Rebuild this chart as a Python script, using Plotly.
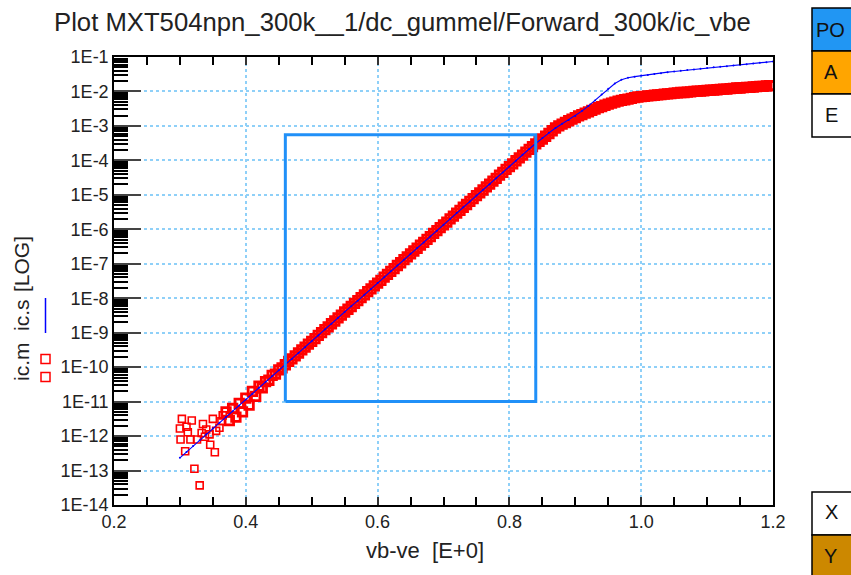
import plotly.graph_objects as go

# ---------------- data ----------------
title_text = "Plot MXT504npn_300k__1/dc_gummel/Forward_300k/ic_vbe"

# simulated ic.s : vb-ve [V] and log10(ic) [A]
vbe_sim = [0.30, 0.31, 0.32, 0.33, 0.34, 0.35, 0.36, 0.37, 0.38, 0.39,
           0.40, 0.41, 0.42, 0.43, 0.44, 0.45, 0.46, 0.47, 0.48, 0.49,
           0.50, 0.51, 0.52, 0.53, 0.54, 0.55, 0.56, 0.57, 0.58, 0.59,
           0.60, 0.61, 0.62, 0.63, 0.64, 0.65, 0.66, 0.67, 0.68, 0.69,
           0.70, 0.71, 0.72, 0.73, 0.74, 0.75, 0.76, 0.77, 0.78, 0.79,
           0.80, 0.81, 0.82, 0.83, 0.84, 0.85, 0.86, 0.87, 0.88, 0.89,
           0.90, 0.91, 0.92, 0.93, 0.94, 0.95, 0.96, 0.97, 0.98, 0.99,
           1.00, 1.01, 1.02, 1.03, 1.04, 1.05, 1.06, 1.07, 1.08, 1.09,
           1.10, 1.11, 1.12, 1.13, 1.14, 1.15, 1.16, 1.17, 1.18, 1.19,
           1.20]
log_ic_sim = [-12.63, -12.46, -12.29, -12.12, -11.95, -11.78, -11.61, -11.45, -11.28, -11.11,
              -10.94, -10.77, -10.60, -10.43, -10.26, -10.09, -9.92, -9.76, -9.59, -9.42,
              -9.25, -9.08, -8.91, -8.74, -8.57, -8.40, -8.23, -8.07, -7.90, -7.73,
              -7.56, -7.39, -7.22, -7.05, -6.88, -6.71, -6.54, -6.38, -6.21, -6.04,
              -5.87, -5.70, -5.53, -5.36, -5.19, -5.02, -4.85, -4.69, -4.52, -4.35,
              -4.18, -4.01, -3.84, -3.67, -3.51, -3.35, -3.20, -3.06, -2.94, -2.83,
              -2.71, -2.57, -2.42, -2.26, -2.09, -1.92, -1.77, -1.66, -1.60, -1.57,
              -1.54, -1.52, -1.49, -1.47, -1.44, -1.42, -1.40, -1.38, -1.36, -1.34,
              -1.32, -1.30, -1.28, -1.27, -1.25, -1.23, -1.21, -1.19, -1.17, -1.15,
              -1.13]

# measured ic.m, noisy low-current points
vbe_meas_low = [0.300, 0.301, 0.303, 0.308, 0.310, 0.312, 0.316, 0.318, 0.322, 0.326,
                0.330, 0.333, 0.335, 0.338, 0.340, 0.345, 0.346, 0.350, 0.353, 0.355,
                0.360, 0.363, 0.365]
log_ic_meas_low = [-11.78, -12.10, -11.50, -12.44, -11.73, -11.89, -12.10, -11.55, -12.95, -12.10,
                   -13.43, -11.91, -11.65, -12.02, -11.81, -11.95, -12.25, -11.50, -12.47, -11.85,
                   -11.76, -11.57, -11.40]

# measured ic.m, main sweep
vbe_meas = [0.370, 0.375, 0.380, 0.385, 0.390, 0.395, 0.400, 0.405, 0.410, 0.415,
            0.420, 0.425, 0.430, 0.435, 0.440, 0.445, 0.450, 0.455, 0.460, 0.465,
            0.470, 0.475, 0.480, 0.485, 0.490, 0.495, 0.500, 0.505, 0.510, 0.515,
            0.520, 0.525, 0.530, 0.535, 0.540, 0.545, 0.550, 0.555, 0.560, 0.565,
            0.570, 0.575, 0.580, 0.585, 0.590, 0.595, 0.600, 0.605, 0.610, 0.615,
            0.620, 0.625, 0.630, 0.635, 0.640, 0.645, 0.650, 0.655, 0.660, 0.665,
            0.670, 0.675, 0.680, 0.685, 0.690, 0.695, 0.700, 0.705, 0.710, 0.715,
            0.720, 0.725, 0.730, 0.735, 0.740, 0.745, 0.750, 0.755, 0.760, 0.765,
            0.770, 0.775, 0.780, 0.785, 0.790, 0.795, 0.800, 0.805, 0.810, 0.815,
            0.820, 0.825, 0.830, 0.835, 0.840, 0.845, 0.850, 0.855, 0.860, 0.865,
            0.870, 0.875, 0.880, 0.885, 0.890, 0.895, 0.900, 0.905, 0.910, 0.915,
            0.920, 0.925, 0.930, 0.935, 0.940, 0.945, 0.950, 0.955, 0.960, 0.965,
            0.970, 0.975, 0.980, 0.985, 0.990, 0.995, 1.000, 1.005, 1.010, 1.015,
            1.020, 1.025, 1.030, 1.035, 1.040, 1.045, 1.050, 1.055, 1.060, 1.065,
            1.070, 1.075, 1.080, 1.085, 1.090, 1.095, 1.100, 1.105, 1.110, 1.115,
            1.120, 1.125, 1.130, 1.135, 1.140, 1.145, 1.150, 1.155, 1.160, 1.165,
            1.170, 1.175, 1.180, 1.185, 1.190, 1.195, 1.200]
log_ic_meas = [-11.30, -11.55, -11.20, -11.45, -11.05, -11.30, -10.90, -11.10, -10.70, -10.85,
               -10.55, -10.60, -10.42, -10.38, -10.24, -10.20, -10.08, -10.02, -9.93, -9.83,
               -9.76, -9.67, -9.59, -9.50, -9.42, -9.33, -9.25, -9.17, -9.08, -9.00,
               -8.91, -8.83, -8.74, -8.66, -8.57, -8.49, -8.40, -8.32, -8.24, -8.15,
               -8.07, -7.98, -7.90, -7.81, -7.73, -7.64, -7.56, -7.48, -7.39, -7.31,
               -7.22, -7.14, -7.05, -6.97, -6.88, -6.80, -6.71, -6.63, -6.55, -6.46,
               -6.38, -6.29, -6.21, -6.12, -6.04, -5.95, -5.87, -5.79, -5.70, -5.62,
               -5.53, -5.45, -5.36, -5.28, -5.19, -5.11, -5.02, -4.94, -4.86, -4.77,
               -4.69, -4.60, -4.52, -4.43, -4.35, -4.26, -4.18, -4.10, -4.01, -3.93,
               -3.85, -3.76, -3.68, -3.60, -3.52, -3.45, -3.38, -3.30, -3.22, -3.14,
               -3.06, -3.00, -2.95, -2.90, -2.85, -2.80, -2.76, -2.71, -2.67, -2.63,
               -2.59, -2.55, -2.51, -2.47, -2.44, -2.40, -2.37, -2.34, -2.31, -2.28,
               -2.26, -2.24, -2.22, -2.20, -2.18, -2.16, -2.15, -2.14, -2.13, -2.12,
               -2.11, -2.10, -2.09, -2.08, -2.07, -2.06, -2.05, -2.04, -2.03, -2.03,
               -2.02, -2.01, -2.00, -1.99, -1.99, -1.98, -1.97, -1.96, -1.96, -1.95,
               -1.94, -1.93, -1.93, -1.92, -1.91, -1.90, -1.90, -1.89, -1.88, -1.88,
               -1.87, -1.86, -1.85, -1.85, -1.84, -1.83, -1.83]

# fit-window box corners (vb-ve, ic)
box_x = [0.46, 0.84, 0.84, 0.46, 0.46]
box_y = [1e-11, 1e-11, 5.5e-4, 5.5e-4, 1e-11]

x_tickvals = [0.2, 0.4, 0.6, 0.8, 1.0, 1.2]
x_ticktext = ["0.2", "0.4", "0.6", "0.8", "1.0", "1.2"]
y_exponents = [-1, -2, -3, -4, -5, -6, -7, -8, -9, -10, -11, -12, -13, -14]
y_ticktext = ["1E-1", "1E-2", "1E-3", "1E-4", "1E-5", "1E-6", "1E-7",
              "1E-8", "1E-9", "1E-10", "1E-11", "1E-12", "1E-13", "1E-14"]

# ---------------- figure ----------------
FONT = "Liberation Sans, Arial, Helvetica, sans-serif"
W, H = 851, 575
ML, MR, MT, MB = 114, 78, 57, 70
PW, PH = W - ML - MR, H - MT - MB


def px(x):
    return (x - ML) / PW


def py(y):
    return (H - MB - y) / PH


fig = go.Figure()
# noisy low-current points (individual open squares)
fig.add_trace(go.Scatter(
    x=vbe_meas_low, y=[10 ** v for v in log_ic_meas_low], mode="markers", name="ic.m",
    marker=dict(symbol="square-open", size=7, color="#ff0000",
                line=dict(color="#ff0000", width=1.6)),
    showlegend=False))
# main measured sweep (dense open squares merging into a band)
fig.add_trace(go.Scatter(
    x=vbe_meas, y=[10 ** v for v in log_ic_meas], mode="markers", name="ic.m",
    marker=dict(symbol="square-open", size=8.5, color="#ff0000",
                line=dict(color="#ff0000", width=2.8)),
    showlegend=False))
fig.add_trace(go.Scatter(
    x=vbe_sim, y=[10 ** v for v in log_ic_sim], mode="lines+markers", name="ic.s",
    line=dict(color="#0000ff", width=1.1),
    marker=dict(size=2, color="#0000ff"),
    showlegend=False))
fig.add_trace(go.Scatter(
    x=box_x, y=box_y, mode="lines", line=dict(color="#2090f8", width=3),
    showlegend=False, hoverinfo="skip"))

grid_col = "#8fd0f8"
fig.update_xaxes(
    range=[0.2, 1.2], tickmode="array", tickvals=x_tickvals, ticktext=x_ticktext,
    ticks="inside", ticklen=8, tickwidth=1.5, tickcolor="#333",
    showline=True, linecolor="black", linewidth=1.5, mirror="ticks",
    showgrid=True, gridcolor=grid_col, gridwidth=1.5, griddash="dot",
    zeroline=False,
    minor=dict(ticks="inside", ticklen=8, tickwidth=1.5, tickcolor="black",
               dtick=0.05, tick0=0.2, showgrid=False),
    tickfont=dict(family=FONT, size=18, color="#222"),
)
fig.update_yaxes(
    type="log", range=[-14, -1], tickmode="array",
    tickvals=[10 ** e for e in y_exponents], ticktext=y_ticktext,
    ticks="inside", ticklen=27, tickwidth=1.5, tickcolor="#444",
    showline=True, linecolor="black", linewidth=1.5, mirror=True,
    showgrid=True, gridcolor=grid_col, gridwidth=1.5, griddash="dot",
    zeroline=False,
    minor=dict(ticks="inside", ticklen=14, tickwidth=1.5, tickcolor="black",
               dtick="D1", showgrid=False),
    tickfont=dict(family=FONT, size=18, color="#222"),
)

ann = []
# title
ann.append(dict(x=px(402), y=py(22), xref="paper", yref="paper", text=title_text,
                showarrow=False, font=dict(family=FONT, size=25.7, color="#222"),
                xanchor="center", yanchor="middle"))
# x label
ann.append(dict(x=px(425), y=py(550), xref="paper", yref="paper", text="vb-ve  [E+0]",
                showarrow=False, font=dict(family=FONT, size=22, color="#222"),
                xanchor="center", yanchor="middle"))
# y label pieces
for txt, yc in [("ic.m", 362), ("ic.s", 315), ("[LOG]", 264)]:
    ann.append(dict(x=px(21), y=py(yc), xref="paper", yref="paper", text=txt,
                    textangle=-90, showarrow=False,
                    font=dict(family=FONT, size=21, color="#222"),
                    xanchor="center", yanchor="middle"))
# right-hand buttons text
for txt, xc, yc, anchor in [("PO", 814, 30, "left"), ("A", 831, 72, "center"),
                            ("E", 832, 115, "center"), ("X", 832, 512, "center"),
                            ("Y", 831, 556, "center")]:
    ann.append(dict(x=px(xc), y=py(yc), xref="paper", yref="paper", text=txt,
                    showarrow=False, font=dict(family=FONT, size=20, color="#111"),
                    xanchor=anchor, yanchor="middle"))

shapes = []
# legend symbols near y label
shapes.append(dict(type="line", xref="paper", yref="paper",
                   x0=px(45.5), x1=px(45.5), y0=py(298), y1=py(333),
                   line=dict(color="#0000ff", width=1.5)))
for yc in (359, 377):
    shapes.append(dict(type="rect", xref="paper", yref="paper",
                       x0=px(41), x1=px(50), y0=py(yc - 4.5), y1=py(yc + 4.5),
                       line=dict(color="#ff0000", width=1.5)))
# right-hand buttons
for y0, y1, col in [(8, 51, "#2196f3"), (51, 94, "#ffa500"), (94, 137, "#ffffff"),
                    (492, 535, "#ffffff"), (535, 580, "#cc8800")]:
    shapes.append(dict(type="rect", xref="paper", yref="paper",
                       x0=px(812), x1=px(870), y0=py(y0), y1=py(y1),
                       fillcolor=col, line=dict(color="black", width=1.5),
                       layer="below"))

fig.update_layout(
    width=W, height=H, margin=dict(l=ML, r=MR, t=MT, b=MB),
    paper_bgcolor="white", plot_bgcolor="white",
    annotations=ann, shapes=shapes, showlegend=False,
    font=dict(family=FONT),
)

fig.write_html("out.html")
